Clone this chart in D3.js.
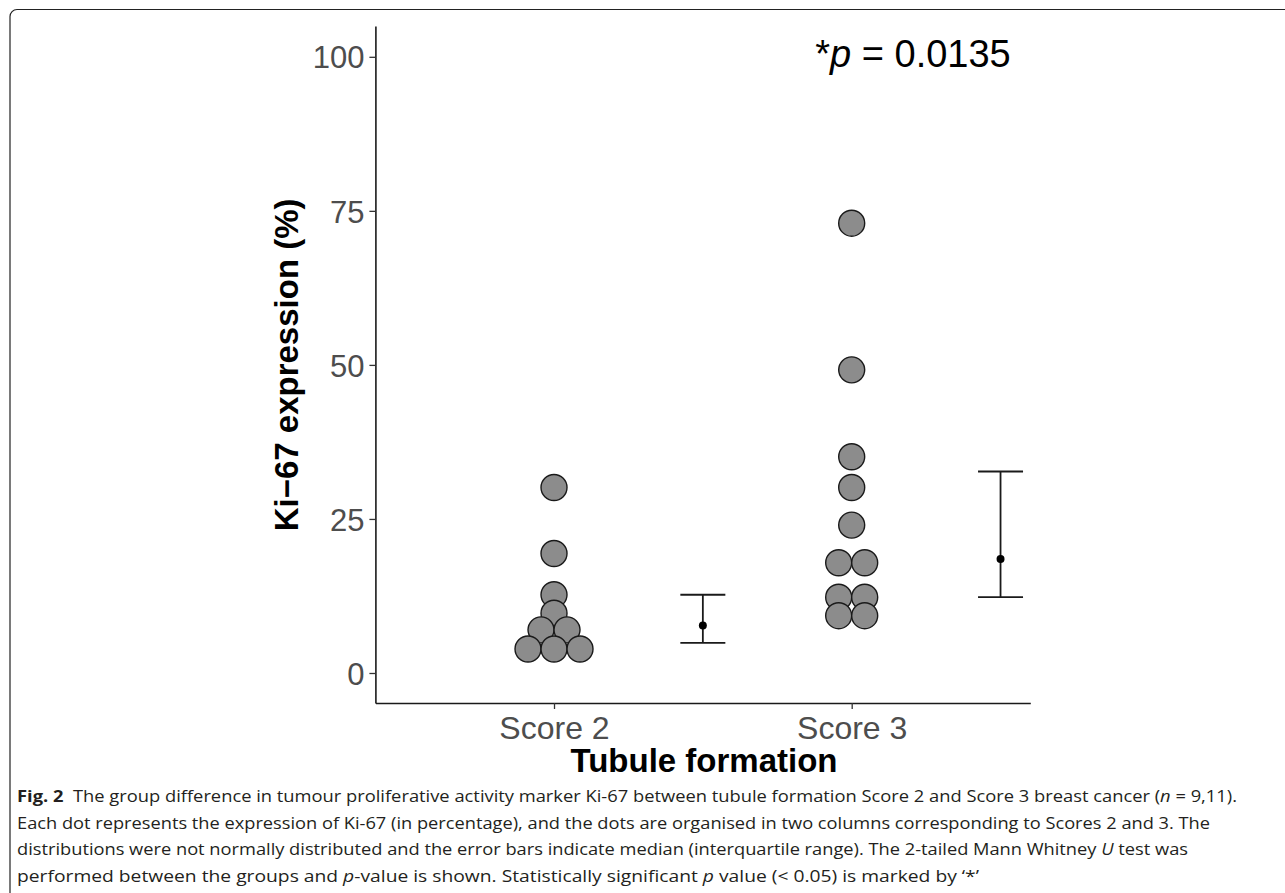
<!DOCTYPE html>
<html>
<head>
<meta charset="utf-8">
<script src="https://cdn.jsdelivr.net/npm/d3@7"></script>
<style>
  body { margin: 0; background: #fff; }
  svg { display: block; }
</style>
</head>
<body>
<script>
// Chart data
const categories = ["Score 2", "Score 3"];
const score2Values = [30.1, 19.4, 12.7, 9.7, 7.0, 7.0, 3.9, 3.9, 3.9];
const score3Values = [73.0, 49.2, 35.1, 30.1, 24.0, 17.9, 17.9, 12.3, 12.3, 9.3, 9.3];
const medians = [7.7, 18.5];
const lowerQuartiles = [4.9, 12.3];
const upperQuartiles = [12.7, 32.7];
const yTicks = [0, 25, 50, 75, 100];
const pLabel = "0.0135";
const captionLines = [
  [{ t: "Fig. 2", b: true }, { t: "  The group difference in tumour proliferative activity marker Ki-67 between tubule formation Score 2 and Score 3 breast cancer (" }, { t: "n", i: true }, { t: " = 9,11)." }],
  [{ t: "Each dot represents the expression of Ki-67 (in percentage), and the dots are organised in two columns corresponding to Scores 2 and 3. The" }],
  [{ t: "distributions were not normally distributed and the error bars indicate median (interquartile range). The 2-tailed Mann Whitney " }, { t: "U", i: true }, { t: " test was" }],
  [{ t: "performed between the groups and " }, { t: "p", i: true }, { t: "-value is shown. Statistically significant " }, { t: "p", i: true }, { t: " value (< 0.05) is marked by \u2018*\u2019" }]
];
const captionWidths = [1220, 1193, 1171, 962];

const width = 1285, height = 893;
const svg = d3.select("body").append("svg")
  .attr("width", width)
  .attr("height", height);

// Figure frame
svg.append("rect")
  .attr("x", 10).attr("y", 9.5)
  .attr("width", 1300).attr("height", 900)
  .attr("rx", 7)
  .attr("fill", "none")
  .attr("stroke", "#222")
  .attr("stroke-width", 1.2);

// Scales
const x = d3.scalePoint()
  .domain(categories)
  .range([375.4, 1030.3])
  .padding(0.6);

const y = d3.scaleLinear()
  .domain([-4.87, 105])
  .range([703, 26]);

const r = 13;
const errOffset = x.step() * 0.5;
const capHalf = 22.5;

// Axes
const yAxis = svg.append("g")
  .attr("transform", "translate(375.4,0)")
  .call(d3.axisLeft(y).tickValues(yTicks).tickSize(6).tickPadding(5).tickSizeOuter(0));

const xAxis = svg.append("g")
  .attr("transform", "translate(0,703)")
  .call(d3.axisBottom(x).tickSize(6).tickPadding(7).tickSizeOuter(0));

[yAxis, xAxis].forEach(g => {
  g.select(".domain").attr("stroke", "#1a1a1a").attr("stroke-width", 1.6);
  g.selectAll(".tick line").attr("stroke", "#333").attr("stroke-width", 1.3);
  g.selectAll(".tick text")
    .attr("fill", "#4d4d4d")
    .style("font-family", "'Liberation Sans', Arial, sans-serif")
    .style("font-size", "31px");
});
xAxis.selectAll(".tick text").style("font-size", "32px").attr("dy", "0.71em");
yAxis.selectAll(".tick text").attr("dy", "0.36em");

// Dot columns: equal values stacked side by side, centred on the category
const groups = [score2Values, score3Values];
const dots = [];
groups.forEach((vals, gi) => {
  const byValue = d3.group(vals, v => v);
  byValue.forEach((items, v) => {
    items.forEach((_, k) => {
      dots.push({ cat: categories[gi], v: v, k: k, n: items.length });
    });
  });
});

svg.append("g").selectAll("circle")
  .data(dots)
  .join("circle")
  .attr("cx", d => x(d.cat) + (d.k - (d.n - 1) / 2) * 2 * r)
  .attr("cy", d => y(d.v))
  .attr("r", r)
  .attr("fill", "#8c8c8c")
  .attr("stroke", "#1a1a1a")
  .attr("stroke-width", 1.4);

// Median (IQR) error bars
const bars = categories.map((c, i) => ({ cat: c, med: medians[i], lo: lowerQuartiles[i], hi: upperQuartiles[i] }));
const eb = svg.append("g").selectAll("g")
  .data(bars)
  .join("g")
  .attr("transform", d => `translate(${x(d.cat) + errOffset},0)`);

eb.append("line")
  .attr("y1", d => y(d.lo)).attr("y2", d => y(d.hi))
  .attr("stroke", "#1a1a1a").attr("stroke-width", 1.8);
eb.append("line")
  .attr("x1", -capHalf).attr("x2", capHalf)
  .attr("y1", d => y(d.hi)).attr("y2", d => y(d.hi))
  .attr("stroke", "#1a1a1a").attr("stroke-width", 1.8);
eb.append("line")
  .attr("x1", -capHalf).attr("x2", capHalf)
  .attr("y1", d => y(d.lo)).attr("y2", d => y(d.lo))
  .attr("stroke", "#1a1a1a").attr("stroke-width", 1.8);
eb.append("circle")
  .attr("cy", d => y(d.med))
  .attr("r", 4)
  .attr("fill", "#000");

// Axis titles
svg.append("text")
  .attr("transform", `translate(298,${y(50)}) rotate(-90)`)
  .attr("text-anchor", "middle")
  .style("font-family", "'Liberation Sans', Arial, sans-serif")
  .style("font-size", "33px")
  .style("font-weight", "bold")
  .attr("fill", "#000")
  .text("Ki\u221267 expression (%)");

svg.append("text")
  .attr("x", 704)
  .attr("y", 772)
  .attr("text-anchor", "middle")
  .style("font-family", "'Liberation Sans', Arial, sans-serif")
  .style("font-size", "33px")
  .style("font-weight", "bold")
  .attr("fill", "#000")
  .text("Tubule formation");

// p-value annotation
const pt = svg.append("text")
  .attr("x", 913)
  .attr("y", 67)
  .attr("text-anchor", "middle")
  .style("font-family", "'Liberation Sans', Arial, sans-serif")
  .style("font-size", "38px")
  .attr("fill", "#000");
pt.append("tspan").text("*");
pt.append("tspan").style("font-style", "italic").text("p");
pt.append("tspan").text(" = " + pLabel);

// Caption
const cap = svg.append("g")
  .style("font-family", "'Open Sans', 'Noto Sans', sans-serif")
  .style("font-size", "16.5px")
  .attr("fill", "#231f20");

captionLines.forEach((parts, i) => {
  const t = cap.append("text")
    .attr("x", 17)
    .attr("y", 802 + i * 26.5)
    .attr("xml:space", "preserve")
    .style("white-space", "pre");
  parts.forEach(p => {
    t.append("tspan")
      .style("font-weight", p.b ? "bold" : "normal")
      .style("font-style", p.i ? "italic" : "normal")
      .text(p.t);
  });
  t.attr("textLength", captionWidths[i]).attr("lengthAdjust", "spacingAndGlyphs");
});
</script>
</body>
</html>
